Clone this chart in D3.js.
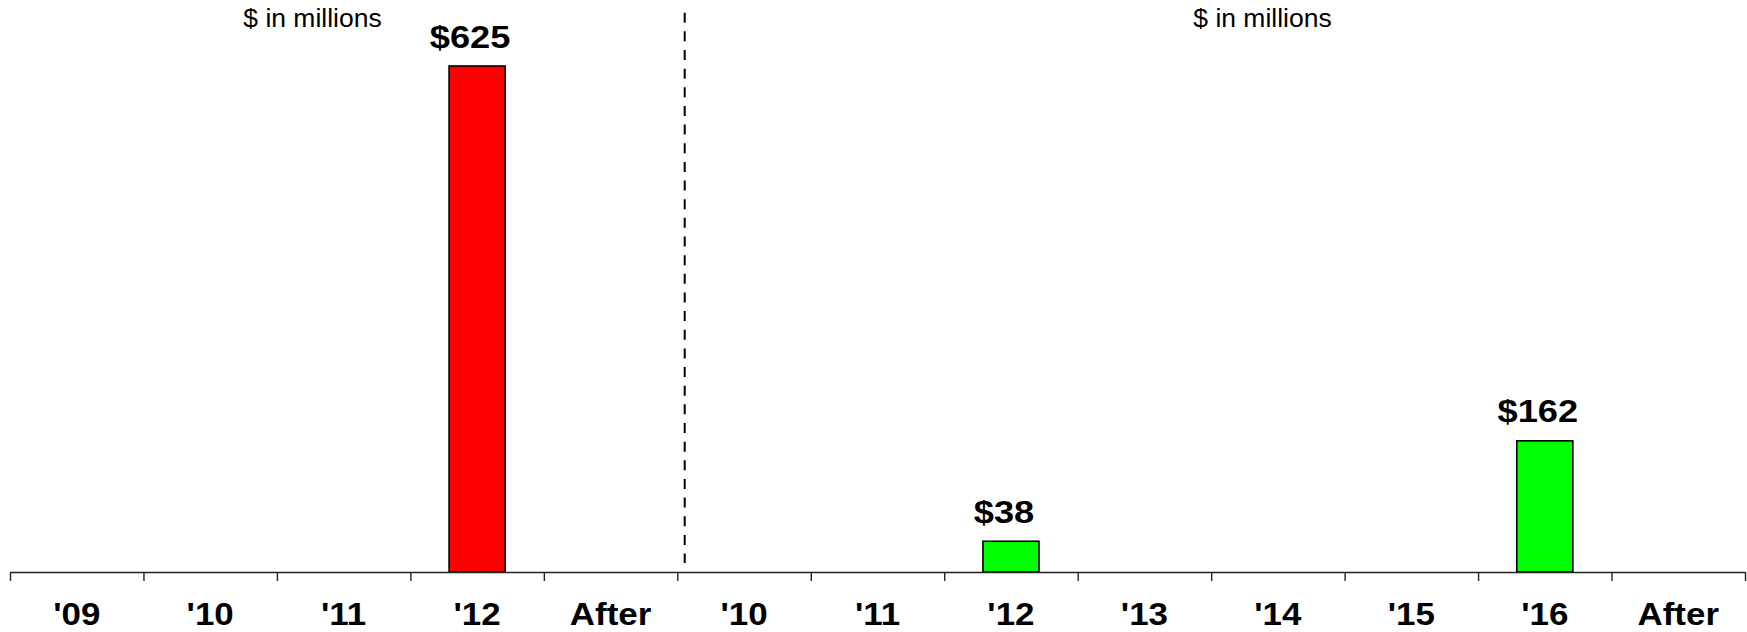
<!DOCTYPE html>
<html>
<head>
<meta charset="utf-8">
<script src="https://cdn.jsdelivr.net/npm/d3@7"></script>
<style>
  html, body { margin: 0; padding: 0; background: #fff; }
  svg { display: block; }
  text { font-family: "Liberation Sans", Arial, Helvetica, sans-serif; }
</style>
</head>
<body>
<svg id="chart" width="1747" height="632"></svg>
<script>
// ---- data ----
const categories = ["'09", "'10", "'11", "'12", "After", "'10", "'11", "'12", "'13", "'14", "'15", "'16", "After"];
const groupOf    = ["L", "L", "L", "L", "L", "R", "R", "R", "R", "R", "R", "R", "R"];
const values     = [0, 0, 0, 625, 0, 0, 0, 38, 0, 0, 0, 162, 0];
const groupColors = { L: "#FF0000", R: "#00FF00" };
const unitNotes  = ["$ in millions", "$ in millions"];

// ---- layout ----
const W = 1747, H = 632;
const axisY = 572;
const svg = d3.select("#chart");

const idx = d3.range(categories.length);
const x = d3.scaleBand().domain(idx).range([10, 1745]).paddingInner(0).paddingOuter(0);
const xb = d3.scaleLinear().domain([0, categories.length]).range([10, 1745]);
const y = d3.scaleLinear().domain([0, 700]).range([axisY, axisY - 700 * 0.8096]);

const barW = x.bandwidth() * 0.42;

// dashed separator between groups
const splitIndex = groupOf.indexOf("R");
svg.append("line")
  .attr("x1", xb(splitIndex) + 7.4).attr("x2", xb(splitIndex) + 7.4)
  .attr("y1", 12.7).attr("y2", 563)
  .attr("stroke", "#000").attr("stroke-width", 2)
  .attr("stroke-dasharray", "10,8.65");

// bars
svg.append("g").selectAll("rect")
  .data(idx.filter(i => values[i] > 0))
  .join("rect")
  .attr("x", i => x(i) + (x.bandwidth() - barW) / 2)
  .attr("y", i => y(values[i]))
  .attr("width", barW)
  .attr("height", i => axisY - y(values[i]))
  .attr("fill", i => groupColors[groupOf[i]])
  .attr("stroke", "#000")
  .attr("stroke-width", 1.6);

// value labels
svg.append("g").selectAll("text")
  .data(idx.filter(i => values[i] > 0))
  .join("text")
  .attr("transform", i => `translate(${x(i) + x.bandwidth() / 2 - 7},${y(values[i]) - 18.5}) scale(1.17,1)`)
  .attr("text-anchor", "middle")
  .attr("font-size", 31)
  .attr("font-weight", "bold")
  .attr("fill", "#000")
  .text(i => "$" + values[i]);

// axis with ticks at category boundaries
const axis = d3.axisBottom(xb)
  .tickValues(d3.range(categories.length + 1))
  .tickSize(9)
  .tickSizeOuter(0)
  .tickFormat("");
const gAxis = svg.append("g").attr("transform", `translate(0,${axisY})`).call(axis);
gAxis.select(".domain").attr("stroke", "#222").attr("stroke-width", 1.6);
gAxis.selectAll(".tick line").attr("stroke", "#222").attr("stroke-width", 1.4);

// category labels
svg.append("g").selectAll("text")
  .data(idx)
  .join("text")
  .attr("transform", i => `translate(${x(i) + x.bandwidth() / 2},624.5) scale(1.11,1)`)
  .attr("text-anchor", "middle")
  .attr("font-size", 31.5)
  .attr("font-weight", "bold")
  .attr("fill", "#000")
  .text(i => categories[i]);

// unit notes
const notePos = [312.5, 1262.5];
svg.append("g").selectAll("text")
  .data(unitNotes)
  .join("text")
  .attr("transform", (d, k) => `translate(${notePos[k]},27.3) scale(1.06,1)`)
  .attr("text-anchor", "middle")
  .attr("font-size", 25)
  .attr("fill", "#000")
  .text(d => d);
</script>
</body>
</html>
